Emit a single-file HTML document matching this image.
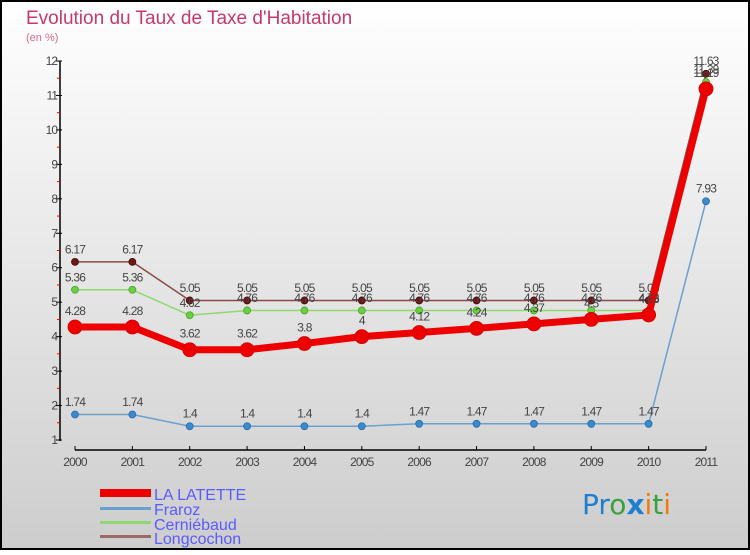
<!DOCTYPE html>
<html><head><meta charset="utf-8">
<style>
html,body{margin:0;padding:0}
body{width:750px;height:550px;overflow:hidden;font-family:"Liberation Sans",sans-serif}
</style></head>
<body>
<svg width="750" height="550" viewBox="0 0 750 550" xmlns="http://www.w3.org/2000/svg">
<defs><linearGradient id="bg" x1="0" y1="0" x2="0" y2="1"><stop offset="0" stop-color="#ffffff"/><stop offset="1" stop-color="#cdcdcd"/></linearGradient></defs>
<rect x="1" y="1" width="748" height="548" fill="url(#bg)" stroke="#000" stroke-width="2"/>
<text x="26" y="24" font-size="19" fill="#c8386a" font-weight="300">Evolution du Taux de Taxe d'Habitation</text>
<text x="26" y="41" font-size="11" fill="#d06a8e">(en %)</text>
<g id="axes"></g>
<g id="series"></g>
<g font-size="16" fill="#5a5aff">
<rect x="100" y="489" width="51" height="8" fill="#e00"/>
<text x="154" y="500">LA LATETTE</text>
<rect x="100" y="507" width="51" height="3" fill="#6aa0d0"/>
<text x="154" y="515">Fraroz</text>
<rect x="100" y="521" width="51" height="3" fill="#8fd870"/>
<text x="154" y="530">Cerniébaud</text>
<rect x="100" y="535" width="51" height="3" fill="#9a6a6a"/>
<text x="154" y="544">Longcochon</text>
</g>
<text x="582" y="514" font-size="28" font-family="DejaVu Sans, sans-serif"><tspan fill="#1e7fd0">Pr</tspan><tspan fill="#3aa040">o</tspan><tspan fill="#1e7fd0" font-weight="bold">x</tspan><tspan fill="#f07a10">i</tspan><tspan fill="#3aa040">t</tspan><tspan fill="#f07a10">i</tspan></text>
</svg>
<script>
const years = ["2000","2001","2002","2003","2004","2005","2006","2007","2008","2009","2010","2011"];
const yTicks = [1,2,3,4,5,6,7,8,9,10,11,12];
const laLatette = [4.28,4.28,3.62,3.62,3.8,4,4.12,4.24,4.37,4.5,4.63,11.19];
const fraroz = [1.74,1.74,1.4,1.4,1.4,1.4,1.47,1.47,1.47,1.47,1.47,7.93];
const cerniebaud = [5.36,5.36,4.62,4.76,4.76,4.76,4.76,4.76,4.76,4.76,4.76,11.39];
const longcochon = [6.17,6.17,5.05,5.05,5.05,5.05,5.05,5.05,5.05,5.05,5.05,11.63];
const NS="http://www.w3.org/2000/svg";
const x = i => 75 + i*(706-75)/11;
const y = v => 440 - (v-1)*(440-61)/11;
function mk(tag, attrs, parent){const e=document.createElementNS(NS,tag);for(const k in attrs)e.setAttribute(k,attrs[k]);parent.appendChild(e);return e;}
const ax=document.getElementById('axes');
let yl=mk('line',{x1:60,y1:61,x2:60,y2:441,stroke:'#000','stroke-width':1.5},ax);


yTicks.forEach((t,i)=>{
  let l=mk('line',{x1:56,y1:y(t),x2:62,y2:y(t),stroke:'#000'},ax);
  
  
  let tx=mk('text',{x:57,y:y(t)+4,'text-anchor':'end','font-size':12,fill:'#444','letter-spacing':'-1'},ax);
  
  
  tx.textContent=t;
  if(i<yTicks.length-1){
    let m=mk('line',{x1:57,y1:y(t+0.5),x2:60,y2:y(t+0.5),stroke:'#e00'},ax);
    
    
  }
});
let xl=mk('line',{x1:75,y1:450,x2:706,y2:450,stroke:'#000','stroke-width':1.5},ax);


years.forEach((yr,i)=>{
  let l=mk('line',{x1:x(i),y1:446,x2:x(i),y2:450,stroke:'#000'},ax);
  
  
  let tx=mk('text',{x:x(i),y:466,'text-anchor':'middle','font-size':12,fill:'#444','letter-spacing':'-0.8'},ax);
  
  
  tx.textContent=yr;
});
const sg=document.getElementById('series');
function series(name,vals,color,dot,lw,r,stroke){
  const g=mk('g',{},sg);
  
  
  let p=mk('polyline',{points:vals.map((v,i)=>x(i)+','+y(v)).join(' '),fill:'none',stroke:color,'stroke-width':lw,'stroke-linejoin':'round'},g);
  
  
  vals.forEach((v,i)=>{
    let c=mk('circle',{cx:x(i),cy:y(v),r:r,fill:dot,stroke:stroke,'stroke-width':0.8},g);
    
    
    let t=mk('text',{x:x(i),y:y(v)-(r+5),'text-anchor':'middle','font-size':12,fill:'#444','letter-spacing':'-0.8'},g);
    
    
    t.textContent=v;
  });
}
series('fraroz',fraroz,'#6aa0d0','#3a8ad0',1.5,3.5,'#2a6aa0');
series('longcochon',longcochon,'#8a4a4a','#6a1a1a',1.5,3.5,'#4a0a0a');
series('cerniebaud',cerniebaud,'#8fd870','#6ad040',1.5,3.5,'#4aa030');
series('la-latette',laLatette,'#ee0000','#ee0000',7,7,'#c00');
</script>
</body></html>
